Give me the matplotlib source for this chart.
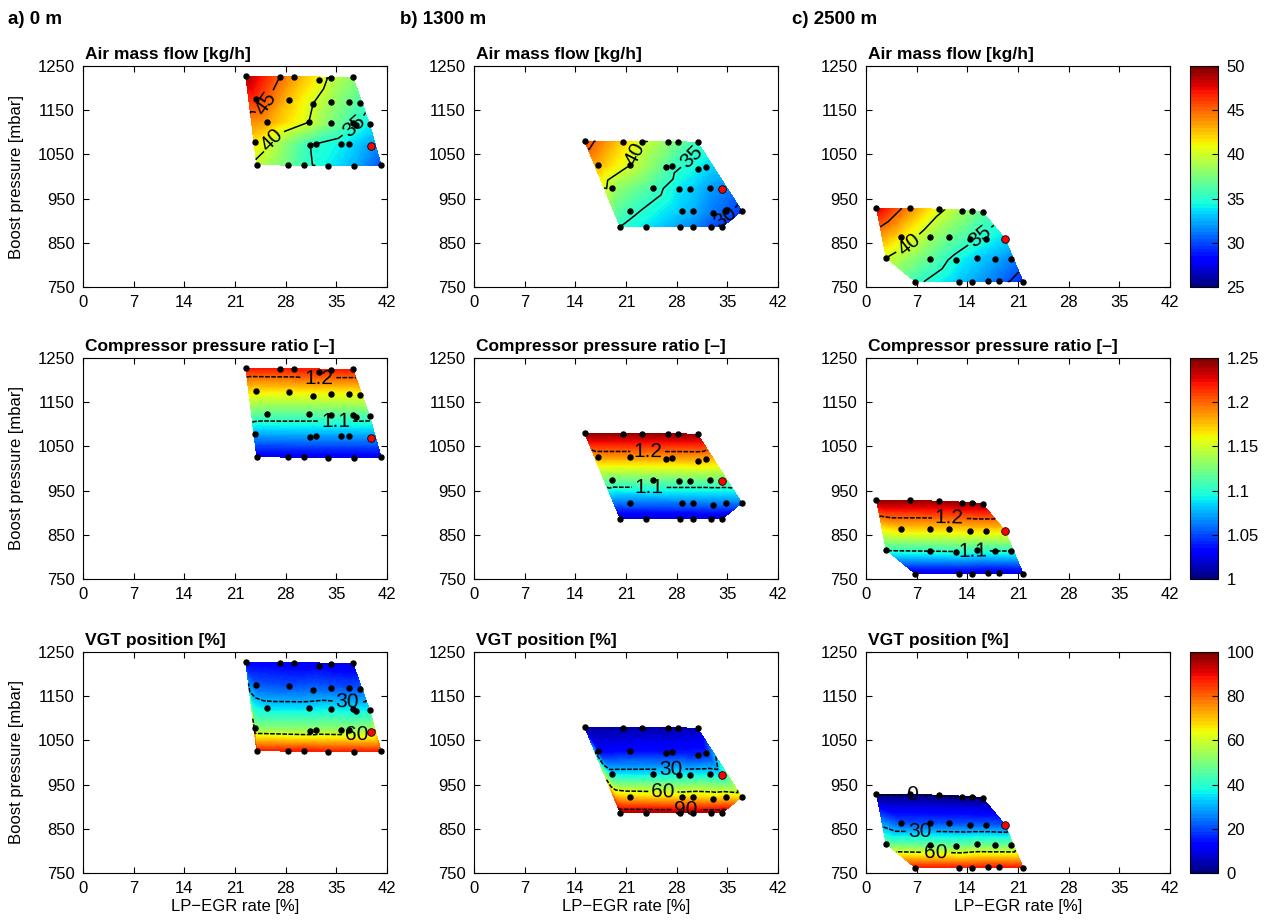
import numpy as np
import matplotlib
matplotlib.use('Agg')
import matplotlib.pyplot as plt
import matplotlib.tri as mtri
from matplotlib.colors import Normalize
from matplotlib.cm import ScalarMappable

plt.rcParams['font.family'] = ['Liberation Sans', 'DejaVu Sans']
plt.rcParams['font.size'] = 12

# ---- operating points, 0 m ----
alt0_egr = [22.5, 27.2, 29.1, 32.6, 34.3, 37.3,
            23.9, 28.5, 31.8, 34.2, 36.7, 38.3,
            25.4, 31.2, 34.2, 37.3, 37.7, 39.6,
            23.7, 31.4, 32.2, 35.7, 36.8, 39.8,
            24.0, 28.3, 30.6, 33.9, 37.4, 41.2]
alt0_boost = [1227, 1226, 1226, 1218, 1222, 1224,
              1175, 1173, 1165, 1169, 1169, 1167,
              1124, 1123, 1120, 1120, 1117, 1118,
              1077, 1071, 1074, 1073, 1073, 1070,
              1027, 1027, 1027, 1024, 1024, 1025]
alt0_air = [49, 45, 43.5, 41, 39.5, 38,
            46.5, 42.5, 40, 38.5, 37, 36,
            43.5, 40, 37.5, 35.5, 35, 34,
            41.5, 35, 35, 34, 33.5, 32,
            39.5, 37, 35.5, 34, 32.5, 30]
alt0_pr = [1.22, 1.22, 1.22, 1.215, 1.218, 1.22,
           1.165, 1.163, 1.156, 1.16, 1.16, 1.158,
           1.115, 1.114, 1.112, 1.111, 1.109, 1.109,
           1.072, 1.068, 1.07, 1.069, 1.069, 1.067,
           1.025, 1.025, 1.025, 1.023, 1.023, 1.024]
alt0_vgt = [12, 11, 10, 12, 10, 9,
            21, 20, 23, 21, 20, 21,
            34, 34, 36, 35, 36, 36,
            52, 54, 53, 53, 53, 55,
            87, 87, 88, 88, 88, 87]
alt0_ref = 23

# ---- operating points, 1300 m ----
alt1_egr = [15.3, 20.6, 23.2, 26.8, 28.2, 30.9,
            17.2, 21.5, 26.5, 27.4, 30.9, 32.1,
            19.1, 24.7, 28.3, 29.8, 32.6, 34.2,
            21.6, 28.7, 30.3, 33.0, 34.8, 37.0,
            20.2, 23.8, 28.5, 30.2, 32.7, 34.3]
alt1_boost = [1080, 1079, 1079, 1079, 1079, 1077,
              1025, 1025, 1022, 1023, 1016, 1021,
              975, 973, 972, 972, 973, 972,
              923, 922, 922, 917, 922, 922,
              886, 886, 886, 886, 886, 886]
alt1_air = [46, 42, 40, 38, 37, 35.5,
            43, 40, 36.5, 35.5, 34, 33.5,
            38.5, 35.8, 33.8, 33.3, 32, 31.5,
            35.5, 33, 32.5, 31, 30.5, 29.5,
            35, 33.8, 32, 31.5, 30, 29.5]
alt1_pr = [1.245, 1.245, 1.244, 1.245, 1.245, 1.243,
           1.185, 1.185, 1.182, 1.183, 1.176, 1.18,
           1.12, 1.118, 1.117, 1.117, 1.118, 1.117,
           1.06, 1.06, 1.06, 1.056, 1.06, 1.06,
           1.015, 1.015, 1.015, 1.015, 1.015, 1.015]
alt1_vgt = [3, 3, 4, 3, 4, 5,
            12, 13, 14, 14, 16, 15,
            34, 35, 36, 36, 36, 35,
            68, 67, 68, 70, 68, 66,
            96, 96, 96, 96, 96, 96]
alt1_ref = 17

# ---- operating points, 2500 m ----
alt2_egr = [1.45, 6.1, 10.1, 13.2, 14.7, 16.1,
            4.9, 8.8, 11.4, 14.3, 16.6, 19.2,
            2.8, 8.8, 12.5, 15.3, 17.8, 20.0,
            6.8, 12.8, 14.7, 16.8, 18.4, 21.7]
alt2_boost = [928, 928, 926, 923, 923, 920,
              862, 862, 862, 859, 859, 859,
              816, 813, 810, 816, 814, 814,
              762, 762, 762, 763, 763, 762]
alt2_air = [48, 44, 40.5, 38.5, 37.5, 36.5,
            41.5, 38.5, 37, 35.5, 34.5, 33.5,
            40, 36.5, 34.3, 33.3, 32.3, 31.5,
            35.5, 33, 32.3, 31.5, 30.8, 29]
alt2_pr = [1.245, 1.245, 1.244, 1.243, 1.243, 1.242,
           1.17, 1.17, 1.17, 1.167, 1.167, 1.167,
           1.103, 1.1, 1.097, 1.103, 1.101, 1.101,
           1.02, 1.02, 1.02, 1.02, 1.02, 1.02]
alt2_vgt = [-0.5, -0.4, -0.5, -0.4, -0.5, -0.4,
            20, 20, 20, 21, 21, 20,
            46, 47, 48, 46, 47, 47,
            88, 88, 88, 88, 88, 88]
alt2_ref = 11

col_titles = ['a) 0 m', 'b) 1300 m', 'c) 2500 m']
row_titles = ['Air mass flow [kg/h]', 'Compressor pressure ratio [\u2013]', 'VGT position [%]']
row_limits = [(25, 50), (1.0, 1.25), (0, 100)]
row_cticks = [[25, 30, 35, 40, 45, 50],
              [1, 1.05, 1.1, 1.15, 1.2, 1.25],
              [0, 20, 40, 60, 80, 100]]
row_levels = [[30, 35, 40, 45], [1.1, 1.2], [0, 30, 60, 90]]
x_ticks = [0, 7, 14, 21, 28, 35, 42]
y_ticks = [750, 850, 950, 1050, 1150, 1250]

# where the contour labels sit (column, row) -> points near the wanted label
label_spots = {
    (0, 0): [(25.5, 1164), (26.2, 1080), (37.2, 1118)],
    (1, 0): [(22.2, 1051), (29.7, 1050), (34.3, 914)],
    (2, 0): [(5.6, 855), (14.7, 883)],
    (0, 1): [(32.6, 1202), (34.9, 1104)],
    (1, 1): [(24.0, 1042), (24.2, 955)],
    (2, 1): [(11.5, 883), (14.7, 810)],
    (0, 2): [(36.5, 1134), (37.8, 1059)],
    (1, 2): [(27.2, 983), (26.1, 930), (29.3, 897)],
    (2, 2): [(6.3, 925), (7.5, 839), (9.6, 789)],
}

columns = [
    (alt0_egr, alt0_boost, [alt0_air, alt0_pr, alt0_vgt], alt0_ref),
    (alt1_egr, alt1_boost, [alt1_air, alt1_pr, alt1_vgt], alt1_ref),
    (alt2_egr, alt2_boost, [alt2_air, alt2_pr, alt2_vgt], alt2_ref),
]

W, H = 1265, 922
fig = plt.figure(figsize=(W / 100, H / 100), dpi=100)
col_left = [83, 474, 866]
row_top = [66, 358, 652]
aw, ah = 304, 221
jet = plt.get_cmap('jet', 64)


def draw_map(ax, egr, boost, vals, lim, levels, fmt, ls, spots):
    # triangulate in normalised units so the x/y scale difference does not skew it
    xn = np.asarray(egr) / 42.0
    yn = (np.asarray(boost) - 750.0) / 500.0
    tri_n = mtri.Triangulation(xn, yn)
    tri_d = mtri.Triangulation(np.asarray(egr, dtype=float), np.asarray(boost, dtype=float),
                               tri_n.triangles)
    z = np.asarray(vals, dtype=float)
    ax.tricontourf(tri_d, z, levels=np.linspace(lim[0], lim[1], 101),
                   cmap='jet', extend='both')
    cs = ax.tricontour(tri_d, z, levels=levels, colors='k', linewidths=1.1)
    cs.set_linestyle(ls)
    ax.clabel(cs, fmt=fmt, fontsize=15, inline=True, inline_spacing=3, manual=spots)


for c, (egr, boost, fields, ref) in enumerate(columns):
    for r in range(3):
        ax = fig.add_axes([col_left[c] / W, 1 - (row_top[r] + ah) / H, aw / W, ah / H])
        fmt = '%.1f' if r == 1 else '%g'
        ls = 'solid' if r == 0 else (0, (3, 1))
        ax.set_xlim(0, 42)
        ax.set_ylim(750, 1250)
        draw_map(ax, egr, boost, fields[r], row_limits[r], row_levels[r], fmt, ls,
                 label_spots[(c, r)])
        ax.plot(egr, boost, 'o', color='k', markersize=3.6, zorder=5)
        ax.plot(egr[ref], boost[ref], 'o', markerfacecolor='red', markeredgecolor='k',
                markeredgewidth=0.6, markersize=5.5, zorder=6)
        ax.set_xlim(0, 42)
        ax.set_ylim(750, 1250)
        ax.set_xticks(x_ticks)
        ax.set_yticks(y_ticks)
        ax.tick_params(direction='in', top=True, right=True, length=4, labelsize=12, pad=6)
        ax.text(0.005, 1.02, row_titles[r], transform=ax.transAxes,
                fontweight='bold', fontsize=12.5, va='bottom', ha='left')
        if c == 0:
            ax.set_ylabel('Boost pressure [mbar]', fontsize=12, labelpad=10)
        if r == 2:
            ax.set_xlabel('LP\u2212EGR rate [%]', fontsize=12, labelpad=2)

for r in range(3):
    cax = fig.add_axes([1190 / W, 1 - (row_top[r] + ah) / H, 28 / W, ah / H])
    sm = ScalarMappable(norm=Normalize(*row_limits[r]), cmap=jet)
    cb = fig.colorbar(sm, cax=cax, ticks=row_cticks[r])
    cb.ax.tick_params(direction='in', length=4, labelsize=12, pad=6)
    if r == 1:
        cb.ax.set_yticklabels(['1', '1.05', '1.1', '1.15', '1.2', '1.25'])

for c, label in enumerate(col_titles):
    fig.text([8, 400, 792][c] / W, 1 - 20 / H, label, fontweight='bold',
             fontsize=13.5, va='center', ha='left')

fig.savefig('out.png', dpi=100)
